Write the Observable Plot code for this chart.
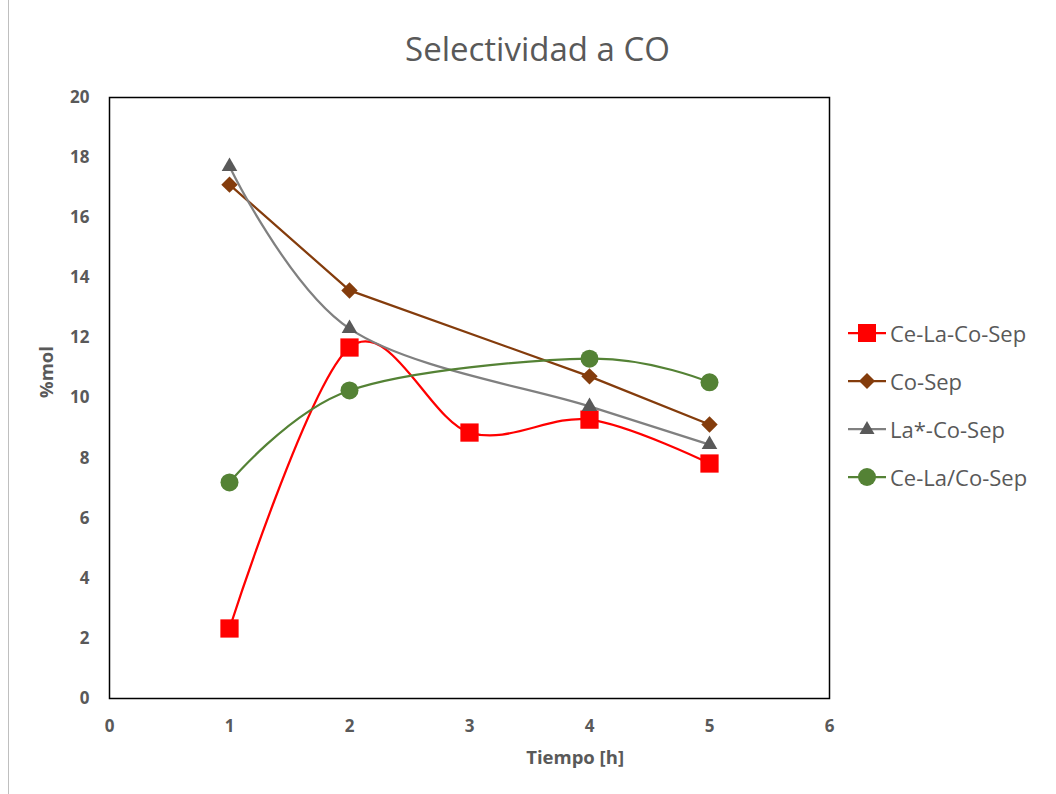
<!DOCTYPE html>
<html><head><meta charset="utf-8">
<script src="https://cdn.jsdelivr.net/npm/d3@7"></script>
<script src="https://cdn.jsdelivr.net/npm/@observablehq/plot@0.6"></script>
<style>
body{margin:0;background:#fff;}
#wrap{position:relative;width:1056px;height:794px;overflow:hidden;font-family:"Open Sans","Noto Sans",sans-serif;color:#595959;}
#border{position:absolute;left:8px;top:0;width:1px;height:794px;background:#bfbfbf;}
#title{position:absolute;left:0;width:1075px;top:26px;text-align:center;font-size:33px;color:#595959;}
#chart{position:absolute;left:0;top:80px;}
#legend{position:absolute;left:848px;top:309px;}
.li{display:flex;align-items:center;height:48px;font-size:22px;color:#595959;}
.li svg{margin-right:4px;}
</style></head>
<body><div id="wrap"><div id="border"></div><div id="title">Selectividad a CO</div><div id="chart"></div><div id="legend"></div></div>
<script>
const seriesNames = ["Ce-La-Co-Sep","Co-Sep","La*-Co-Sep","Ce-La/Co-Sep"];
const ceLaCoSepX = [1,2,3,4,5];
const ceLaCoSepY = [2.33,11.68,8.85,9.28,7.82];
const coSepX = [1,2,4,5];
const coSepY = [17.1,13.58,10.72,9.12];
const laCoSepX = [1,2,4,5];
const laCoSepY = [17.7,12.31,9.72,8.45];
const ceLaSlashX = [1,2,4,5];
const ceLaSlashY = [7.19,10.25,11.31,10.52];
const xTicks = [0,1,2,3,4,5,6];
const yTicks = [0,2,4,6,8,10,12,14,16,18,20];

const mk = (xs, ys) => xs.map((x,i)=>({x, y: ys[i]}));
const dRed = mk(ceLaCoSepX, ceLaCoSepY);
const dBrown = mk(coSepX, coSepY);
const dGrey = mk(laCoSepX, laCoSepY);
const dGreen = mk(ceLaSlashX, ceLaSlashY);

const W = 860, H = 700;
const chart = Plot.plot({
  width: W, height: H,
  marginLeft: 109, marginRight: 31, marginTop: 17, marginBottom: 82,
  style: {fontFamily: "'Open Sans','Noto Sans',sans-serif", fontSize: "17px", color: "#595959", background: "transparent", overflow: "visible"},
  x: {domain: [0,6], label: null},
  y: {domain: [0,20], label: null},
  marks: [
    Plot.axisX({ticks: xTicks, tickFormat: "d", tickSize: 0, tickPadding: 21, fontWeight: "bold", fill: "#595959", fontSize: 17, label: null}),
    Plot.axisY({ticks: yTicks, tickFormat: "d", tickSize: 0, tickPadding: 20, fontWeight: "bold", fill: "#595959", fontSize: 17, label: null}),
    Plot.text(["Tiempo [h]"], {frameAnchor: "bottom", x: () => 3.88, dy: 65, fontWeight: "bold", fill: "#595959", fontSize: 18.5}),
    Plot.text(["%mol"], {frameAnchor: "left", dx: -62, rotate: -90, fontWeight: "bold", fill: "#595959", fontSize: 18.5}),
    Plot.frame({stroke: "#000", strokeWidth: 1.5}),
    Plot.line(dRed, {x: "x", y: "y", curve: "cardinal", stroke: "#FF0000", strokeWidth: 2.25}),
    Plot.line(dBrown, {x: "x", y: "y", stroke: "#843C0C", strokeWidth: 2.25}),
    Plot.line(dGrey, {x: "x", y: "y", curve: "cardinal", stroke: "#808080", strokeWidth: 2.25}),
    Plot.line(dGreen, {x: "x", y: "y", curve: "cardinal", stroke: "#548235", strokeWidth: 2.25}),
    Plot.dot(dRed, {x: "x", y: "y", symbol: "square", r: 10.3, fill: "#FF0000", stroke: null}),
    Plot.dot(dBrown, {x: "x", y: "y", symbol: "diamond2", r: 7.4, fill: "#843C0C", stroke: null}),
    Plot.dot(dGrey, {x: "x", y: "y", symbol: "triangle", r: 5.8, fill: "#595959", stroke: null}),
    Plot.dot(dGreen, {x: "x", y: "y", symbol: "circle", r: 9, fill: "#548235", stroke: null})
  ]
});
document.getElementById("chart").appendChild(chart);

// legend
const legendDefs = [
  {name: seriesNames[0], line: "#FF0000", fill: "#FF0000", shape: "sq"},
  {name: seriesNames[1], line: "#843C0C", fill: "#843C0C", shape: "di"},
  {name: seriesNames[2], line: "#808080", fill: "#595959", shape: "tr"},
  {name: seriesNames[3], line: "#548235", fill: "#548235", shape: "ci"}
];
const leg = document.getElementById("legend");
for (const d of legendDefs) {
  let shape;
  if (d.shape === "sq") shape = `<rect x="10" y="3" width="18" height="18" fill="${d.fill}"/>`;
  else if (d.shape === "di") shape = `<path d="M19 4 L27 12 L19 20 L11 12 Z" fill="${d.fill}"/>`;
  else if (d.shape === "tr") shape = `<path d="M19 4 L26.5 17 L11.5 17 Z" fill="${d.fill}"/>`;
  else shape = `<circle cx="19" cy="12" r="9" fill="${d.fill}"/>`;
  leg.insertAdjacentHTML("beforeend", `<div class="li"><svg width="38" height="24"><line x1="0" x2="38" y1="12" y2="12" stroke="${d.line}" stroke-width="2.25"/>${shape}</svg><span>${d.name}</span></div>`);
}
</script></body></html>
